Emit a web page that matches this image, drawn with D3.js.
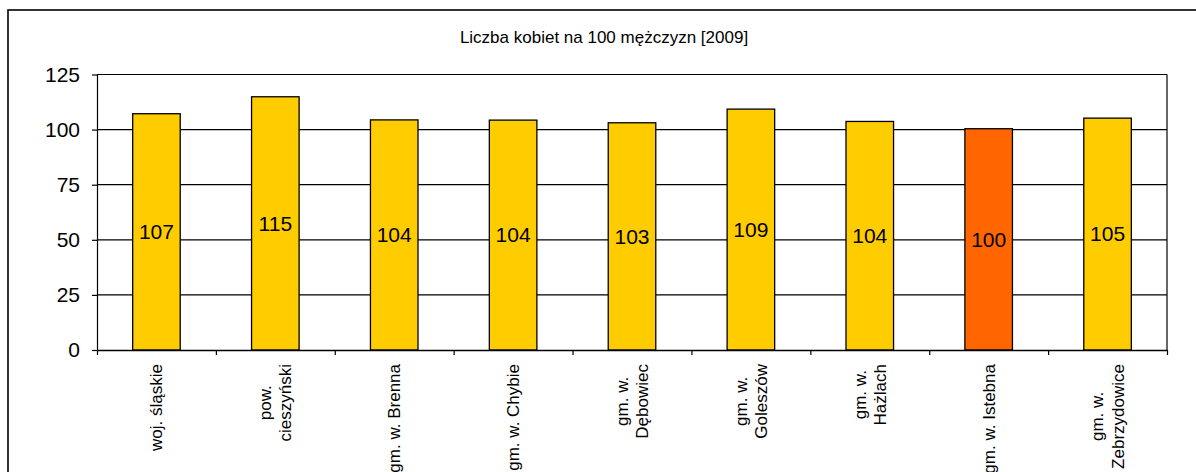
<!DOCTYPE html>
<html>
<head>
<meta charset="utf-8">
<script src="https://cdn.jsdelivr.net/npm/d3@7"></script>
<style>
  body { margin: 0; background: #fff; }
  svg { display: block; font-family: "Liberation Sans", Arial, sans-serif; }
</style>
</head>
<body>
<div id="chart"></div>
<script>
// Data
const title = "Liczba kobiet na 100 mężczyzn [2009]";
const categories = [
  "woj. śląskie", "pow.\ncieszyński", "gm. w. Brenna", "gm. w. Chybie",
  "gm. w.\nDębowiec", "gm. w.\nGoleszów", "gm. w.\nHażlach",
  "gm. w. Istebna", "gm. w.\nZebrzydowice"
];
const values = [107.2, 114.9, 104.4, 104.3, 103.1, 109.3, 103.7, 100.4, 105.2];
const highlighted = ["gm. w. Istebna"];
const yTicks = [0, 25, 50, 75, 100, 125];

const W = 1196, H = 472;
const plot = { left: 97, right: 1167, top: 74.5, bottom: 350 };

const svg = d3.select("#chart").append("svg")
  .attr("width", W)
  .attr("height", H);

// outer chart frame (runs off the right/bottom edge in the reference)
svg.append("rect")
  .attr("x", 8).attr("y", 10)
  .attr("width", 1240).attr("height", 520)
  .attr("fill", "none")
  .attr("stroke", "#000")
  .attr("stroke-width", 1.6);

// title
svg.append("text")
  .attr("x", 604).attr("y", 43)
  .attr("text-anchor", "middle")
  .style("font-size", "17px")
  .text(title);

// scales
const y = d3.scaleLinear()
  .domain([0, 125])
  .range([plot.bottom, plot.top]);

const x = d3.scaleBand()
  .domain(categories)
  .range([plot.left, plot.right])
  .paddingInner(0.6)
  .paddingOuter(0.3);

const xEdges = d3.scaleLinear()
  .domain([0, categories.length])
  .range([plot.left, plot.right]);

// gridlines
svg.append("g")
  .selectAll("line")
  .data(yTicks.filter(d => d > 0))
  .enter().append("line")
  .attr("x1", plot.left).attr("x2", plot.right)
  .attr("y1", d => y(d)).attr("y2", d => y(d))
  .attr("stroke", "#000")
  .attr("stroke-width", 1.2);

// right edge of plot area
svg.append("line")
  .attr("x1", plot.right).attr("x2", plot.right)
  .attr("y1", plot.top).attr("y2", plot.bottom)
  .attr("stroke", "#000")
  .attr("stroke-width", 1.2);

// y axis
const yAxis = svg.append("g")
  .attr("transform", `translate(${plot.left},0)`)
  .call(d3.axisLeft(y).tickValues(yTicks).tickSize(5).tickPadding(12).tickSizeOuter(0));
yAxis.select(".domain").attr("stroke-width", 1.2);
yAxis.selectAll(".tick line").attr("stroke-width", 1.2);
yAxis.selectAll("text")
  .style("font-size", "21px")
  .style("font-family", "Liberation Sans, Arial, sans-serif")
  .attr("fill", "#000");

// bars
svg.append("g")
  .selectAll("rect")
  .data(categories)
  .enter().append("rect")
  .attr("x", d => x(d))
  .attr("y", (d, i) => y(values[i]))
  .attr("width", x.bandwidth())
  .attr("height", (d, i) => y(0) - y(values[i]))
  .attr("fill", d => highlighted.includes(d) ? "#FF6600" : "#FFCC00")
  .attr("stroke", "#000")
  .attr("stroke-width", 1.3);

// value labels in the middle of each bar
svg.append("g")
  .selectAll("text")
  .data(categories)
  .enter().append("text")
  .attr("x", d => x(d) + x.bandwidth() / 2)
  .attr("y", (d, i) => (y(values[i]) + y(0)) / 2)
  .attr("dy", "0.35em")
  .attr("text-anchor", "middle")
  .style("font-size", "21px")
  .text((d, i) => d3.format(".0f")(values[i]));

// x axis with ticks on category boundaries
const xAxis = svg.append("g")
  .attr("transform", `translate(0,${plot.bottom})`)
  .call(d3.axisBottom(xEdges)
    .tickValues(d3.range(categories.length + 1))
    .tickSize(5)
    .tickSizeOuter(0)
    .tickFormat(""));
xAxis.select(".domain").attr("stroke-width", 1.3);
xAxis.selectAll(".tick line").attr("stroke-width", 1.2);

// rotated category labels, top-aligned, lines centred on each other
const labelTop = 364;
const labels = svg.append("g")
  .selectAll("g")
  .data(categories)
  .enter().append("g");

labels.each(function(d) {
  const g = d3.select(this);
  const lines = d.split("\n");
  const cx = x(d) + x.bandwidth() / 2;
  const t = g.append("text")
    .attr("text-anchor", "middle")
    .style("font-size", "17px");
  lines.forEach((line, i) => {
    t.append("tspan")
      .attr("x", 0)
      .attr("dy", i === 0 ? ((-(lines.length - 1) / 2) * 1.2 + 0.35) + "em" : "1.2em")
      .text(line);
  });
  let maxLen = 0;
  t.selectAll("tspan").each(function() {
    maxLen = Math.max(maxLen, this.getComputedTextLength());
  });
  g.attr("transform", `translate(${cx},${labelTop + maxLen / 2}) rotate(-90)`);
});
</script>
</body>
</html>
